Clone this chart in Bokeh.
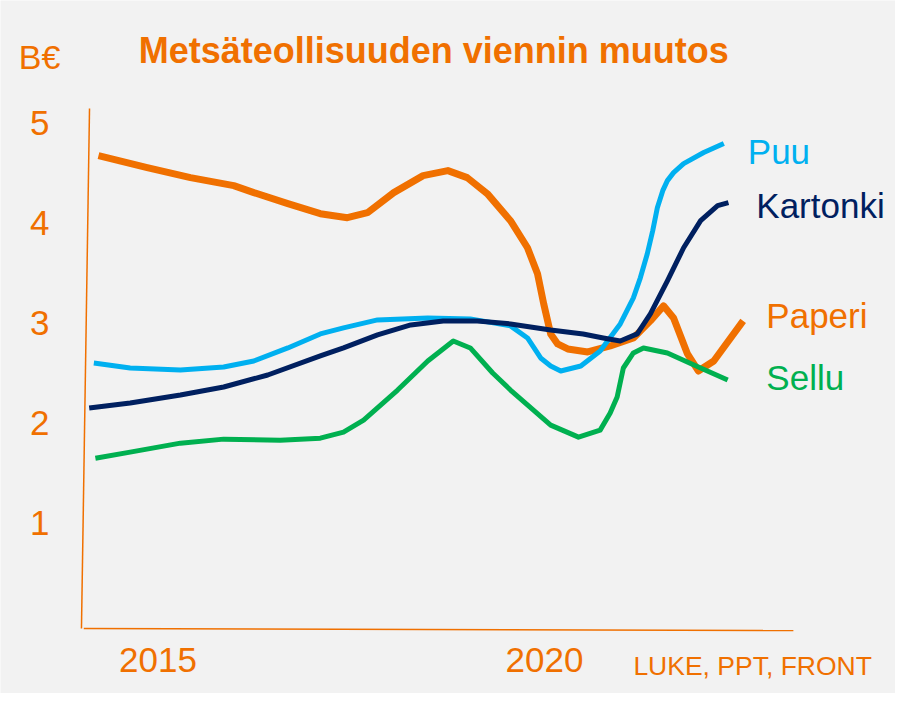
from bokeh.plotting import figure
from bokeh.models import ColumnDataSource, Label, Range1d
from bokeh.core.properties import value
from bokeh.embed import file_html
from bokeh.resources import INLINE

# ---- data (billion EUR) ----
paperi_x = [2014.23, 2014.86, 2015.42, 2015.98, 2016.24, 2016.68, 2017.10, 2017.45, 2017.71,
            2018.05, 2018.43, 2018.75, 2019.00, 2019.26, 2019.56, 2019.78, 2019.91, 2019.99,
            2020.08, 2020.17, 2020.30, 2020.56, 2020.85, 2021.15, 2021.37, 2021.54, 2021.67,
            2021.85, 2021.99, 2022.19, 2022.57]
paperi_y = [4.67, 4.55, 4.45, 4.37, 4.30, 4.19, 4.09, 4.05, 4.10,
            4.30, 4.47, 4.52, 4.45, 4.29, 4.02, 3.75, 3.49, 3.19,
            2.89, 2.79, 2.74, 2.71, 2.77, 2.85, 3.02, 3.17, 3.05,
            2.69, 2.52, 2.62, 3.02]

puu_x = [2014.17, 2014.64, 2015.29, 2015.85, 2016.24, 2016.68, 2017.10, 2017.40, 2017.84,
         2018.49, 2019.04, 2019.56, 2019.78, 2019.95, 2020.08, 2020.21, 2020.47, 2020.72,
         2020.98, 2021.15, 2021.24, 2021.33, 2021.40, 2021.46, 2021.53, 2021.59, 2021.67,
         2021.80, 2022.06, 2022.32]
puu_y = [2.60, 2.55, 2.53, 2.56, 2.62, 2.75, 2.89, 2.95, 3.03,
         3.05, 3.04, 2.97, 2.85, 2.65, 2.57, 2.52, 2.57, 2.72,
         2.99, 3.25, 3.45, 3.69, 3.92, 4.15, 4.32, 4.42, 4.50,
         4.59, 4.70, 4.79]

kartonki_x = [2014.11, 2014.64, 2015.29, 2015.85, 2016.42, 2017.10, 2017.40, 2017.84, 2018.27,
              2018.69, 2019.13, 2019.56, 2020.08, 2020.50, 2020.76, 2020.98, 2021.20, 2021.37,
              2021.59, 2021.80, 2022.02, 2022.24, 2022.38]
kartonki_y = [2.15, 2.20, 2.28, 2.36, 2.48, 2.67, 2.75, 2.88, 2.98,
              3.02, 3.02, 2.99, 2.93, 2.89, 2.85, 2.82, 2.89, 3.09,
              3.42, 3.75, 4.02, 4.17, 4.20]

sellu_x = [2014.19, 2014.64, 2015.29, 2015.85, 2016.58, 2017.10, 2017.40, 2017.66, 2018.10,
           2018.49, 2018.82, 2019.04, 2019.33, 2019.56, 2020.08, 2020.44, 2020.72, 2020.85,
           2020.94, 2021.02, 2021.15, 2021.28, 2021.59, 2022.02, 2022.37]
sellu_y = [1.65, 1.71, 1.80, 1.84, 1.83, 1.85, 1.91, 2.03, 2.33,
           2.62, 2.82, 2.75, 2.50, 2.33, 1.98, 1.86, 1.93, 2.10,
           2.26, 2.55, 2.70, 2.75, 2.70, 2.55, 2.43]

y_ticks = [1, 2, 3, 4, 5]
y_tick_labels = ["1", "2", "3", "4", "5"]
x_ticks = [2015, 2020]
x_tick_labels = ["2015", "2020"]

ORANGE = "#f07000"
BLUE = "#00b0f0"
NAVY = "#002060"
GREEN = "#00b050"
BG = "#f2f2f2"
FONT = "Liberation Sans"

# axis extents (data units)
X0, X1 = 2014.04, 2023.22
Y0, Y1 = -0.05, 5.14

p = figure(width=895, height=693, output_backend="svg", toolbar_location=None,
           x_range=Range1d(2012.9625, 2024.541), y_range=Range1d(-0.6986, 6.2176),
           x_axis_location=None, y_axis_location=None,
           min_border=0, background_fill_color=BG, border_fill_color=BG)
p.outline_line_color = None
p.grid.visible = False

# axis lines
p.segment(x0=[2014.114, X0], y0=[Y1, Y0], x1=[2014.01, X1], y1=[Y0, -0.07],
          line_color=ORANGE, line_width=1.5)

# tick labels
p.text(x=[2013.47] * len(y_ticks), y=y_ticks, text=y_tick_labels,
       text_color=ORANGE, text_font=value(FONT), text_font_size="35px",
       text_align="center", text_baseline="middle")
p.text(x=x_ticks, y=[-0.36] * len(x_ticks), text=x_tick_labels,
       text_color=ORANGE, text_font=value(FONT), text_font_size="35px",
       text_align="center", text_baseline="alphabetic")

series = [
    (paperi_x, paperi_y, ORANGE, 7),
    (puu_x, puu_y, BLUE, 5),
    (kartonki_x, kartonki_y, NAVY, 5),
    (sellu_x, sellu_y, GREEN, 5),
]
for xs, ys, col, w in series:
    src = ColumnDataSource(dict(x=xs, y=ys))
    p.line("x", "y", source=src, line_color=col, line_width=w, line_join="round")

def add_label(x, y, text, color, size, style="normal"):
    p.add_layout(Label(x=x, y=y, text=text, text_color=color, text_font=FONT,
                       text_font_size=size, text_font_style=style,
                       text_baseline="alphabetic", text_align="left"))

add_label(2022.63, 4.71, "Puu", BLUE, "35px")
add_label(2022.74, 4.17, "Kartonki", NAVY, "35px")
add_label(2022.87, 3.07, "Paperi", ORANGE, "35px")
add_label(2022.87, 2.46, "Sellu", GREEN, "35px")
add_label(2014.75, 5.72, "Metsäteollisuuden viennin muutos", ORANGE, "36px", "bold")
add_label(2013.20, 5.65, "B€", ORANGE, "34px")
add_label(2021.15, -0.42, "LUKE, PPT, FRONT", ORANGE, "26.5px")

open("out.html", "w").write(file_html(p, INLINE))
